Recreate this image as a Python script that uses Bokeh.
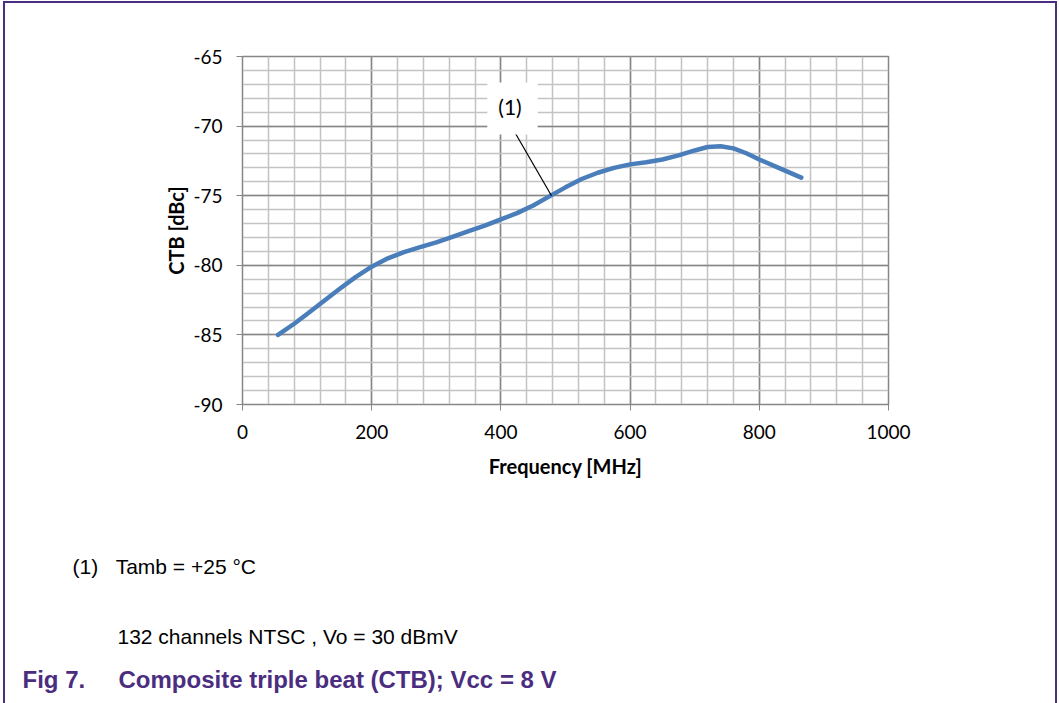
from bokeh.plotting import figure
from bokeh.models import Range1d, SingleIntervalTicker, Label, Title
from bokeh.embed import file_html
from bokeh.resources import INLINE

# ---- data ----
freq_mhz = [55, 80, 100, 125, 150, 175, 200, 225, 250, 275, 300, 325, 350, 375,
            400, 425, 450, 475, 500, 525, 550, 575, 600, 625, 650, 675, 700, 720,
            740, 760, 780, 800, 830, 865]
ctb_dbc = [-85.0, -84.2, -83.5, -82.6, -81.7, -80.85, -80.1, -79.5, -79.05, -78.7,
           -78.35, -77.95, -77.55, -77.15, -76.7, -76.25, -75.7, -75.05, -74.4,
           -73.8, -73.35, -73.0, -72.75, -72.6, -72.4, -72.1, -71.75, -71.5,
           -71.45, -71.6, -71.95, -72.4, -73.0, -73.7]

x_ticks = [0, 200, 400, 600, 800, 1000]
y_ticks = [-90, -85, -80, -75, -70, -65]

x_title = "Frequency [MHz]"
y_title = "CTB [dBc]"
callout_text = "(1)"
NB = "\u00a0"
note_line = "(1)" + NB * 3 + "Tamb = +25 °C"
cond_line = "132 channels NTSC , Vo = 30 dBmV"
caption_line = "Fig 7." + NB * 5 + "Composite triple beat (CTB); Vcc = 8 V"

# annotation anchor positions (data coordinates)
callout_xy = (418, -68.74)
leader_from = (422.6, -70.53)
leader_to = (478.3, -75.0)

PURPLE = "#4b2d7f"
GRID_MAJOR = "#868686"
GRID_MINOR = "#c3c3c3"

p = figure(width=1059, height=703, output_backend="svg", toolbar_location=None,
           x_range=Range1d(x_ticks[0], x_ticks[-1]),
           y_range=Range1d(y_ticks[0], y_ticks[-1]),
           min_border_left=242, min_border_right=171,
           min_border_top=56, min_border_bottom=299,
           background_fill_color="white", border_fill_color=None)
p.styles = {
    "background-color": "#ffffff",
    "box-shadow": ("inset 3px 0 0 0 #ffffff, inset 0 1px 0 0 #ffffff, "
                   "inset -2px 0 0 0 #ffffff, "
                   f"inset 5px 0 0 0 {PURPLE}, inset 0 3px 0 0 {PURPLE}, "
                   f"inset -4px 0 0 0 {PURPLE}"),
}

p.xaxis.ticker = SingleIntervalTicker(interval=200, num_minor_ticks=5)
p.yaxis.ticker = SingleIntervalTicker(interval=5, num_minor_ticks=5)
p.xaxis.major_label_overrides = {t: str(t) for t in x_ticks}
p.yaxis.major_label_overrides = {t: str(t) for t in y_ticks}

for ax in (p.xaxis[0], p.yaxis[0]):
    ax.axis_line_color = GRID_MAJOR
    ax.major_tick_line_color = GRID_MAJOR
    ax.major_tick_out = 6
    ax.major_tick_in = 0
    ax.minor_tick_line_color = None
    ax.major_label_text_font = "Lato"
    ax.major_label_text_font_size = "19px"
    ax.major_label_text_color = "black"
    ax.axis_label_text_font = "Lato"
    ax.axis_label_text_font_size = "20px"
    ax.axis_label_text_font_style = "bold"
    ax.axis_label_text_color = "black"

p.xaxis.axis_label = x_title
p.yaxis.axis_label = y_title
p.xaxis.major_label_standoff = 14
p.xaxis.axis_label_standoff = 12
p.yaxis.major_label_standoff = 14
p.yaxis.axis_label_standoff = 2

for g in (p.xgrid[0], p.ygrid[0]):
    g.grid_line_color = GRID_MAJOR
    g.grid_line_width = 1.5
    g.minor_grid_line_color = GRID_MINOR
    g.minor_grid_line_width = 1.5

p.outline_line_color = GRID_MAJOR
p.outline_line_width = 1.5

p.line(freq_mhz, ctb_dbc, line_color="#4a7ebb", line_width=4.5,
       line_cap="round", line_join="round")

p.segment(x0=[leader_from[0]], y0=[leader_from[1]], x1=[leader_to[0]], y1=[leader_to[1]],
          line_color="black", line_width=1.2)

p.add_layout(Label(x=callout_xy[0], y=callout_xy[1], text=callout_text,
                   text_align="center", text_baseline="middle",
                   text_font="Lato", text_font_size="21px", text_color="black",
                   background_fill_color="white", padding=(11, 16, 11, 16)))

# ---- footer lines as titles below the chart (first one is a blank spacer) ----
footer = [
    (NB, 0, 29, "normal", "white", "10px"),
    (note_line, -170, 61, "normal", "black", "21px"),
    (cond_line, -125, 29, "normal", "black", "21px"),
    (caption_line, -220, 2, "bold", PURPLE, "24px"),
]
for txt, off, stand, style, col, size in footer:
    p.add_layout(Title(text=txt, align="left", offset=off, standoff=stand,
                       text_font="Liberation Sans", text_font_size=size,
                       text_font_style=style, text_color=col), "below")

open("out.html", "w").write(file_html(p, INLINE))
